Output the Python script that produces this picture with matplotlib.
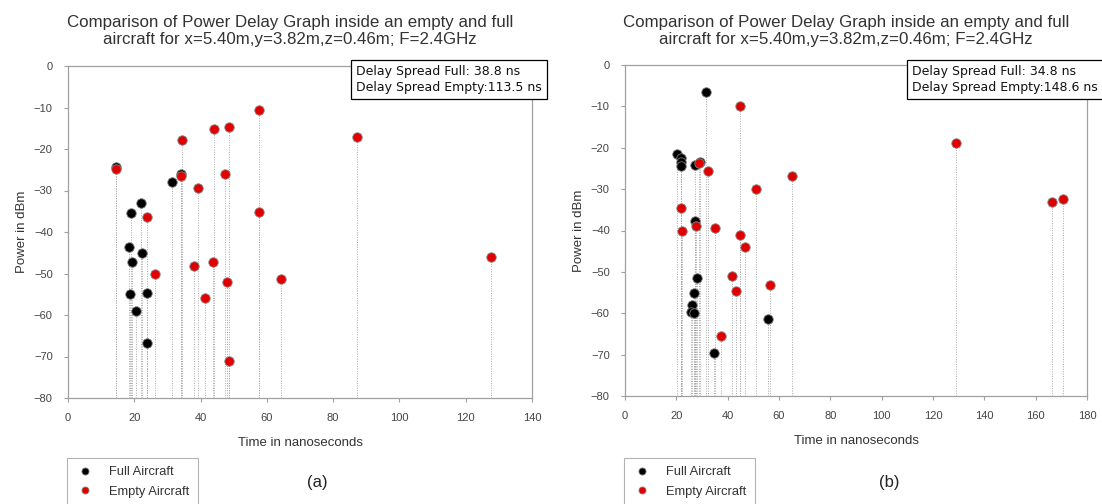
import numpy as np
import matplotlib.pyplot as plt

# (a) delays in ns and power in dBm
a_full_t = [14.5, 19.0, 22.0, 18.4, 19.3, 22.2, 18.7, 20.4, 23.7, 23.9, 31.3, 34.2]
a_full_p = [-24.3, -35.4, -33.1, -43.6, -47.3, -45.0, -55.0, -59.1, -54.7, -66.8, -28.0, -26.0]
a_empty_t = [14.5, 23.9, 26.3, 34.5, 34.2, 39.1, 38.1, 41.2, 44.0, 43.7, 48.5, 47.3, 47.9,
             48.5, 57.7, 57.6, 64.4, 87.1, 127.7]
a_empty_p = [-24.8, -36.3, -50.0, -17.8, -26.6, -29.4, -48.3, -55.8, -15.3, -47.2, -14.6, -26.1,
             -52.0, -71.2, -10.5, -35.1, -51.3, -17.0, -46.1]

# (b)
b_full_t = [31.5, 20.4, 21.7, 21.7, 21.8, 27.2, 29.1, 27.4, 28.1, 26.9, 26.1, 25.9, 26.9, 34.5, 55.6]
b_full_p = [-6.5, -21.6, -22.5, -23.5, -24.3, -24.2, -23.5, -37.6, -51.4, -55.0, -58.0, -59.6,
            -59.9, -69.6, -61.3]
b_empty_t = [21.7, 22.2, 28.7, 27.6, 32.4, 35.0, 37.3, 41.5, 43.4, 44.7, 44.9, 46.7, 51.2, 56.3,
             64.9, 129.0, 166.4, 170.6]
b_empty_p = [-34.6, -40.2, -23.7, -39.0, -25.7, -39.4, -65.6, -50.9, -54.6, -9.9, -41.1, -44.0,
             -30.0, -53.1, -26.8, -18.8, -33.2, -32.3]

title = 'Comparison of Power Delay Graph inside an empty and full\naircraft for x=5.40m,y=3.82m,z=0.46m; F=2.4GHz'
spread_a = 'Delay Spread Full: 38.8 ns\nDelay Spread Empty:113.5 ns'
spread_b = 'Delay Spread Full: 34.8 ns\nDelay Spread Empty:148.6 ns'

plt.rcParams['font.family'] = ['Liberation Sans', 'DejaVu Sans']

fig = plt.figure(figsize=(11.02, 5.04), dpi=100)
W, H = 1102, 504


def panel(rect, full_t, full_p, empty_t, empty_p, xmax, spread, box_x, tag, tag_x):
    l, t, r, b = rect
    ax = fig.add_axes([l / W, 1 - b / H, (r - l) / W, (b - t) / H])
    ymin = -80
    ax.vlines(full_t, ymin, full_p, colors='#a8a8a8', linestyles=(0, (1, 1.5)), linewidth=0.7, zorder=1)
    ax.vlines(empty_t, ymin, empty_p, colors='#a8a8a8', linestyles=(0, (1, 1.5)), linewidth=0.7, zorder=1)
    ax.plot(full_t, full_p, 'o', color='black', mec='#777777', mew=0.6, ms=6.8, zorder=3,
            label='Full Aircraft')
    ax.plot(empty_t, empty_p, 'o', color='#e00000', mec='#888888', mew=0.6, ms=6.8, zorder=4,
            label='Empty Aircraft')
    ax.set_xlim(0, xmax)
    ax.set_ylim(-80, 0)
    ax.set_xticks(np.arange(0, xmax + 1, 20))
    ax.set_yticks(np.arange(-80, 1, 10))
    for s in ax.spines.values():
        s.set_color('#a0a0a0')
        s.set_linewidth(0.9)
    ax.tick_params(colors='#a0a0a0', labelcolor='#444444', labelsize=8, length=3, width=0.8, pad=8)
    ax.set_xlabel('Time in nanoseconds', fontsize=9.5, color='#333333', labelpad=10)
    ax.set_ylabel('Power in dBm', fontsize=9.5, color='#333333', labelpad=4)
    cx = (l + r) / 2 - 10
    fig.text(cx / W, 1 - 31 / H, title, ha='center', va='center', fontsize=12.2,
             color='#333333', linespacing=1.15)
    fig.text(box_x / W, 1 - 79 / H, spread, ha='left', va='center', fontsize=9,
             family='DejaVu Sans', color='#111111', linespacing=1.3,
             bbox=dict(boxstyle='square,pad=0.4', fc='white', ec='black', lw=0.9))
    fig.text(tag_x / W, 1 - 482 / H, tag, ha='center', va='center', fontsize=12, color='#222222')
    leg = fig.legend(handles=ax.get_lines(), loc='upper left',
                     bbox_to_anchor=((l - 1) / W, 1 - 458 / H), frameon=True, fancybox=False,
                     fontsize=9.3, markerscale=0.75, handlelength=1.5, handletextpad=1.1,
                     borderpad=0.65, labelspacing=0.55, borderaxespad=0)
    leg.get_frame().set_edgecolor('#a0a0a0')
    leg.get_frame().set_linewidth(0.8)
    for txt in leg.get_texts():
        txt.set_color('#333333')
    return ax


panel((68, 66, 532, 398), a_full_t, a_full_p, a_empty_t, a_empty_p, 140, spread_a, 356, '(a)', 317)
panel((625, 65, 1087, 396), b_full_t, b_full_p, b_empty_t, b_empty_p, 180, spread_b, 912, '(b)', 889)

fig.savefig('out.png', dpi=100)
